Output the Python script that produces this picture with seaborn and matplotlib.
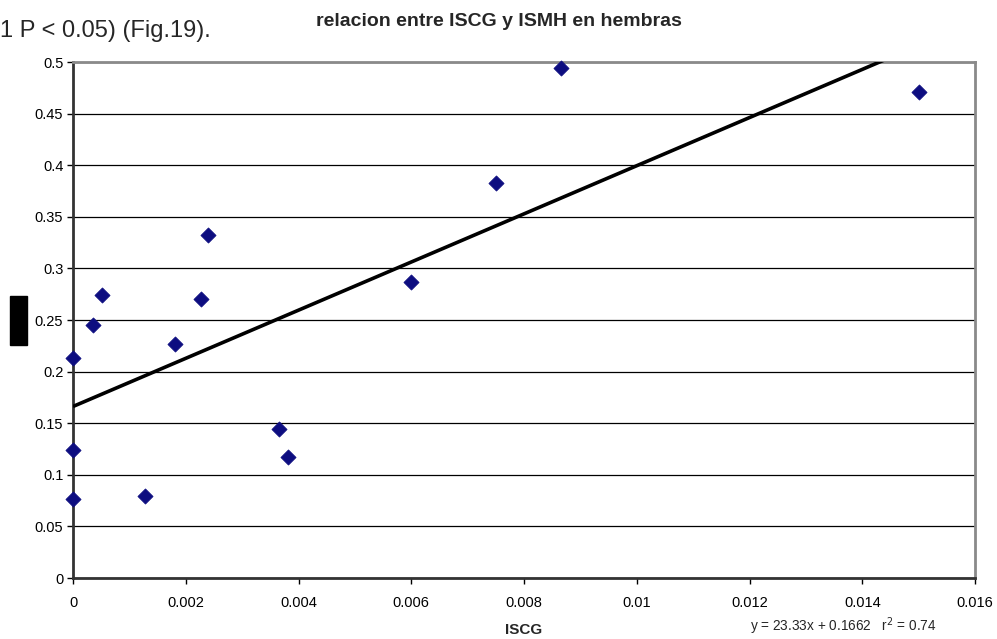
import matplotlib
matplotlib.use("Agg")
import matplotlib.pyplot as plt
import seaborn as sns
import numpy as np
import pandas as pd
from matplotlib.patches import Rectangle

# ---- data ----
iscg = [0.0, 0.0, 0.0, 0.000356, 0.000516, 0.001274, 0.001813, 0.00227,
        0.002394, 0.003656, 0.00381, 0.006, 0.0075, 0.00866, 0.01501]
ismh = [0.213, 0.124, 0.077, 0.245, 0.274, 0.079, 0.227, 0.270,
        0.332, 0.144, 0.117, 0.287, 0.383, 0.494, 0.471]
slope = 23.33
intercept = 0.1662
r2 = 0.74
line_x = [0.0, 0.0160]
xticks = [0, 0.002, 0.004, 0.006, 0.008, 0.01, 0.012, 0.014, 0.016]
xtick_labels = ["0", "0.002", "0.004", "0.006", "0.008", "0.01", "0.012", "0.014", "0.016"]
yticks = [0, 0.05, 0.1, 0.15, 0.2, 0.25, 0.3, 0.35, 0.4, 0.45, 0.5]
ytick_labels = ["0", "0.05", "0.1", "0.15", "0.2", "0.25", "0.3", "0.35", "0.4", "0.45", "0.5"]
title = "relacion entre ISCG y ISMH en hembras"
xlabel = "ISCG"
top_text = "1 P < 0.05) (Fig.19)."

sns.set_theme(style="white")
plt.rcParams['font.family'] = ['Liberation Sans', 'DejaVu Sans']

df = pd.DataFrame({"ISCG": iscg, "ISMH": ismh})

fig = plt.figure(figsize=(9.97, 6.39), dpi=100)
W, H = 997, 639
ax = fig.add_axes([73 / W, 1 - 578 / H, (975 - 73) / W, (578 - 62) / H])

# regression line from equation
lx = np.array(line_x)
ly = slope * lx + intercept
ax.plot(lx, ly, color="black", lw=2.6, zorder=3, solid_capstyle="butt")

sns.scatterplot(data=df, x="ISCG", y="ISMH", ax=ax, marker="D", s=60,
                color="#0d0d80", edgecolor="#0d0d80", linewidth=0.5, zorder=4,
                clip_on=False)

ax.set_xlim(0, 0.016)
ax.set_ylim(0, 0.5)
ax.set_xticks(xticks)
ax.set_xticklabels(xtick_labels)
ax.set_yticks(yticks)
ax.set_yticklabels(ytick_labels)
ax.tick_params(axis="both", labelsize=10.5, colors="#000000", length=4,
               width=1, direction="out", bottom=True, left=True, pad=3)
ax.tick_params(axis="x", pad=9)
ax.yaxis.grid(True, color="black", lw=0.9)
ax.xaxis.grid(False)
ax.set_axisbelow(True)

for side in ["top", "right"]:
    ax.spines[side].set_color("#8a8a8a")
    ax.spines[side].set_linewidth(2)
for side in ["left", "bottom"]:
    ax.spines[side].set_color("#333333")
    ax.spines[side].set_linewidth(2)

ax.set_xlabel("")
ax.set_ylabel("")

fig.text(524 / W, 1 - 630 / H, xlabel, ha="center", va="center",
         fontsize=11, fontweight="bold")
fig.text(499 / W, 1 - 21 / H, title, ha="center", va="center",
         fontsize=14, fontweight="bold")
fig.text(0 / W, 1 - 31 / H, top_text, ha="left", va="center", fontsize=17)
fig.text(843 / W, 1 - 626 / H,
         f"y = {slope}x + {intercept}   r$^2$ = {r2}",
         ha="center", va="center", fontsize=9.8)

# redaction box where the y-axis label was
fig.patches.append(Rectangle((10 / W, 1 - 345 / H), 17 / W, 49 / H,
                             transform=fig.transFigure, color="black"))

fig.savefig("out.png", dpi=100)
